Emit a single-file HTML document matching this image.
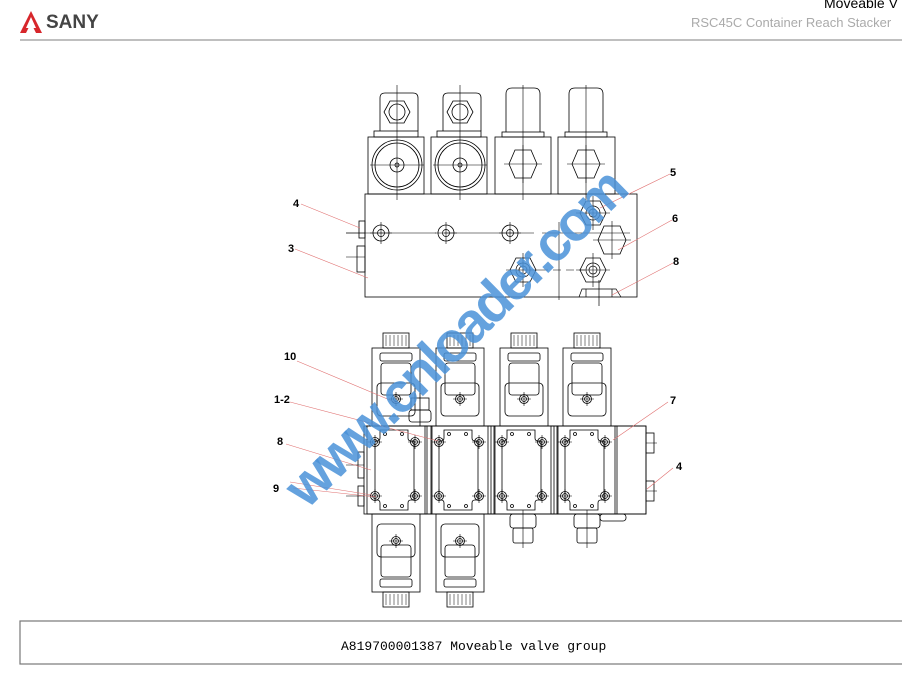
<!DOCTYPE html>
<html><head><meta charset="utf-8"><style>
html,body{margin:0;padding:0;background:#fff;width:902px;height:678px;overflow:hidden;position:relative;font-family:"Liberation Sans",sans-serif}
</style></head><body>
<svg width="902" height="678" viewBox="0 0 902 678" xmlns="http://www.w3.org/2000/svg" style="position:absolute;left:0;top:0">
<defs>
<g id="bolt"><circle r="4.5" fill="none" stroke="#000" stroke-width="0.8"/><circle r="2.5" fill="none" stroke="#000" stroke-width="0.7"/><path d="M-7 0H7M0 -7V7" stroke="#000" stroke-width="0.6"/></g>
<g id="hole"><circle r="8" fill="none" stroke="#000" stroke-width="0.8"/><circle r="3.5" fill="none" stroke="#000" stroke-width="0.7"/><path d="M-11 0H11M0 -11V11" stroke="#000" stroke-width="0.6"/></g>
<g id="nut"><polygon points="-13,0 -7,-12 7,-12 13,0 7,12 -7,12" fill="none" stroke="#000" stroke-width="0.8"/><circle r="7" fill="none" stroke="#000" stroke-width="0.7"/><circle r="4" fill="none" stroke="#000" stroke-width="0.7"/><path d="M-17 0H17M0 -17V17" stroke="#000" stroke-width="0.6"/></g>
<g id="hex"><polygon points="-14,0 -8,-14 8,-14 14,0 8,14 -8,14" fill="none" stroke="#000" stroke-width="0.8"/><path d="M-19 0H19M0 -19V19" stroke="#000" stroke-width="0.6"/></g>
<g id="coilU" fill="none" stroke="#000" stroke-width="0.8">
<rect x="0" y="15" width="48" height="78"/><rect x="11" y="0" width="26" height="15"/>
<path d="M14 2V13M18 2V13M22 2V13M26 2V13M30 2V13M34 2V13" stroke-width="0.5"/>
<rect x="8" y="20" width="32" height="8" rx="2"/><rect x="9" y="30" width="30" height="32" rx="3"/>
<rect x="5" y="50" width="38" height="33" rx="4"/>
<use href="#bolt" x="24" y="66"/>
</g>
<g id="plate" fill="none" stroke="#000" stroke-width="0.8">
<rect x="0" y="0" width="60" height="88"/>
<path d="M13 4H41V12Q41 15 44 15H47V74H44Q41 74 41 77V84H13V77Q13 74 10 74H8V15H10Q13 15 13 12Z"/>
<circle cx="18" cy="8" r="1.5"/><circle cx="35" cy="8" r="1.5"/><circle cx="18" cy="80" r="1.5"/><circle cx="35" cy="80" r="1.5"/>
<use href="#bolt" x="8" y="16"/><use href="#bolt" x="48" y="16"/><use href="#bolt" x="8" y="70"/><use href="#bolt" x="48" y="70"/>
</g>
</defs>

<path d="M31 11 L42 33 L36 33 L31 23 L26 33 L20 33 Z" fill="#d7262b"/>
<path d="M31 17 L36 28 L26 28 Z" fill="#fff"/>
<text x="46" y="28" font-size="19" font-weight="bold" fill="#444" font-family="Liberation Sans,sans-serif">SANY</text>
<text x="824" y="8" font-size="14" fill="#000">Moveable V</text>
<text x="691" y="27" font-size="13" fill="#aaa">RSC45C Container Reach Stacker</text>
<line x1="20" y1="40" x2="902" y2="40" stroke="#aaa" stroke-width="1.5"/>

<g fill="none" stroke="#000" stroke-width="0.8">
<rect x="365" y="194" width="272" height="103"/>
<rect x="359" y="221" width="6" height="17"/><rect x="357" y="246" width="8" height="26"/>
<path d="M346 233H365M346 257H365" stroke-width="0.6"/>
<rect x="368" y="137" width="56" height="57"/><rect x="374" y="131" width="44" height="6"/>
<path d="M380 131V98Q380 93 385 93H413Q418 93 418 98V131"/>
<circle cx="397" cy="165" r="25"/><circle cx="397" cy="165" r="22"/><circle cx="397" cy="165" r="7"/><circle cx="397" cy="165" r="2"/>
<polygon points="384,112 390,101 404,101 410,112 404,123 390,123"/><circle cx="397" cy="112" r="8"/>
<rect x="431" y="137" width="56" height="57"/><rect x="437" y="131" width="44" height="6"/>
<path d="M443 131V98Q443 93 448 93H476Q481 93 481 98V131"/>
<circle cx="460" cy="165" r="25"/><circle cx="460" cy="165" r="22"/><circle cx="460" cy="165" r="7"/><circle cx="460" cy="165" r="2"/>
<polygon points="447,112 453,101 467,101 473,112 467,123 453,123"/><circle cx="460" cy="112" r="8"/>
<rect x="495" y="137" width="56" height="57"/><rect x="502" y="132" width="42" height="5"/>
<path d="M506 132V94Q506 88 512 88H534Q540 88 540 94V132"/>
<rect x="558" y="137" width="57" height="57"/><rect x="565" y="132" width="42" height="5"/>
<path d="M569 132V94Q569 88 575 88H597Q603 88 603 94V132"/>
</g>
<g stroke="#000" stroke-width="0.6" fill="none">
<path d="M397 85V200M370 165H424M460 85V200M433 165H487M523 85V200M559 222V300M586 85V200"/>
</g>
<use href="#hex" x="523" y="164"/><use href="#hex" x="586" y="164"/>
<path d="M346 233H630" stroke="#000" stroke-width="0.6" stroke-dasharray="90 8"/>
<use href="#hole" x="381" y="233"/><use href="#hole" x="446" y="233"/><use href="#hole" x="510" y="233"/>
<use href="#nut" x="593" y="213"/><use href="#hex" x="612" y="240"/>
<use href="#nut" x="523" y="270"/><use href="#nut" x="593" y="270"/>
<path d="M540 270H585" stroke="#000" stroke-width="0.6" stroke-dasharray="8 5"/>
<path d="M579 297L582 289H616L621 297M586 289V297M612 289V297M599 280V306" fill="none" stroke="#000" stroke-width="0.7"/>

<g fill="none" stroke="#000" stroke-width="0.8">
<rect x="364" y="426" width="282" height="88"/>
<rect x="646" y="433" width="8" height="20"/><rect x="646" y="481" width="8" height="20"/>
<rect x="358" y="452" width="6" height="26"/><rect x="358" y="486" width="6" height="20"/>
<path d="M646 443H657M646 491H657M346 465H364M346 496H364" stroke-width="0.6"/>
<rect x="425" y="426" width="7" height="88"/><rect x="488" y="426" width="7" height="88"/><rect x="551" y="426" width="7" height="88"/><rect x="615" y="426" width="31" height="88"/>
</g>
<use href="#coilU" x="372" y="333"/><use href="#coilU" x="436" y="333"/><use href="#coilU" x="500" y="333"/><use href="#coilU" x="563" y="333"/>
<g transform="translate(372,607) scale(1,-1)"><use href="#coilU"/></g>
<g transform="translate(436,607) scale(1,-1)"><use href="#coilU"/></g>
<g fill="none" stroke="#000" stroke-width="0.8">
<rect x="411" y="398" width="18" height="12"/><rect x="409" y="410" width="22" height="12" rx="3"/>
<rect x="510" y="514" width="26" height="14" rx="3"/><rect x="513" y="528" width="20" height="15" rx="2"/>
<rect x="574" y="514" width="26" height="14" rx="3"/><rect x="577" y="528" width="20" height="15" rx="2"/>
<rect x="600" y="514" width="26" height="7" rx="3"/>
<path d="M523 510V548M587 510V548" stroke-width="0.6"/>
</g>
<use href="#plate" x="367" y="426"/><use href="#plate" x="431" y="426"/><use href="#plate" x="494" y="426"/><use href="#plate" x="557" y="426"/>

<g stroke="#e07070" stroke-width="0.6">
<path d="M301 204L360 228M295 249L368 278M670 174L600 208M672 220L618 250M673 263L612 295"/>
<path d="M297 361L397 403M290 402L438 441M286 444L371 470M290 482L372 495M293 488L376 497M668 402L613 440M673 468L647 489"/>
</g>
<g font-family="Liberation Sans,sans-serif" font-weight="bold" font-size="11" fill="#000">
<text x="293" y="207">4</text><text x="288" y="252">3</text><text x="670" y="176">5</text><text x="672" y="222">6</text><text x="673" y="265">8</text>
<text x="284" y="360">10</text><text x="274" y="403">1-2</text><text x="277" y="445">8</text><text x="273" y="492">9</text><text x="670" y="404">7</text><text x="676" y="470">4</text>
</g>

<text x="0" y="0" transform="translate(307,510) rotate(-44.5)" font-family="Liberation Sans,sans-serif" font-size="56" font-weight="bold" fill="#4a92d8" fill-opacity="0.85" textLength="455">www.cnloader.com</text>

<rect x="20" y="621" width="900" height="43" fill="none" stroke="#777" stroke-width="1.2"/>
<text x="341" y="650" font-family="Liberation Mono,monospace" font-size="13" fill="#000">A819700001387 Moveable valve group</text>
</svg>
</body></html>
